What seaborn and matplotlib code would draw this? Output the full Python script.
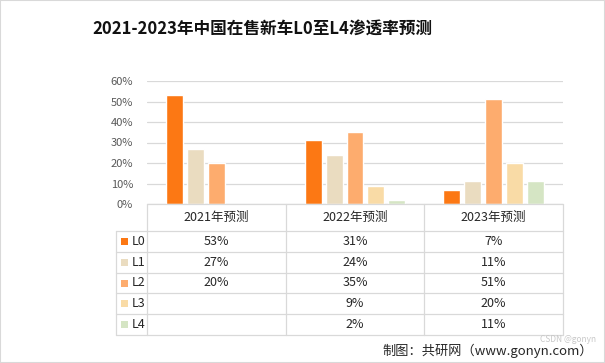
import numpy as np
import pandas as pd
import matplotlib
matplotlib.use('Agg')
import matplotlib.pyplot as plt
import matplotlib.transforms as mtransforms
from matplotlib.patches import Rectangle
from matplotlib.lines import Line2D
import seaborn as sns

years = ['2021年预测', '2022年预测', '2023年预测']
levels = ['L0', 'L1', 'L2', 'L3', 'L4']
L0 = [53, 31, 7]
L1 = [27, 24, 11]
L2 = [20, 35, 51]
L3 = [np.nan, 9, 20]
L4 = [np.nan, 2, 11]
colors = ['#FC7814', '#EADCC0', '#FDAC6E', '#F9DBA6', '#D5E5C4']

series = dict(zip(levels, [L0, L1, L2, L3, L4]))
rows = []
for lv, vals in series.items():
    for yr, v in zip(years, vals):
        if not np.isnan(v):
            rows.append({'year': yr, 'level': lv, 'value': v / 100})
df = pd.DataFrame(rows)

sns.set_style('white')
plt.rcParams['font.family'] = ['Noto Sans CJK SC', 'DejaVu Sans']

W, H = 605, 363
fig = plt.figure(figsize=(W / 100, H / 100), dpi=100)
ax = fig.add_axes([147 / W, 1 - 204 / H, (563 - 147) / W, (204 - 81) / H])

sns.barplot(data=df, x='year', y='value', hue='level', order=years,
            hue_order=levels, palette=colors, saturation=1, width=0.755,
            gap=0.19, errorbar=None, legend=False, ax=ax)

ax.set_xlim(-0.5, 2.5)
ax.set_ylim(0, 0.6)
ax.set_yticks(np.arange(0, 0.61, 0.1))
ax.set_yticklabels([f'{int(round(t * 100))}%' for t in np.arange(0, 0.61, 0.1)])
ax.tick_params(axis='y', length=0, pad=10, labelsize=8, labelcolor='#595959')
ax.tick_params(axis='x', length=0, labelbottom=False)
ax.set_xlabel('')
ax.set_ylabel('')
ax.yaxis.grid(True, color='#D9D9D9', lw=0.9)
ax.set_axisbelow(True)
for s in ax.spines.values():
    s.set_visible(False)

# table under the bars
tr = mtransforms.blended_transform_factory(ax.transData, fig.transFigure)
line_kw = dict(color='#D9D9D9', lw=0.9, transform=tr, clip_on=False)
def fy(p):
    return 1 - p / H

top, head_b, row_h = 204, 231, 20.8
left_col = -0.5 - 31 / 139
edges = [-0.5, 0.5, 1.5, 2.5]
bottom = head_b + row_h * len(levels)

fig.add_artist(Line2D([edges[0], edges[-1]], [fy(top), fy(top)], **line_kw))
for i in range(len(levels) + 1):
    y = fy(head_b + i * row_h)
    fig.add_artist(Line2D([left_col, edges[-1]], [y, y], **line_kw))
fig.add_artist(Line2D([left_col, left_col], [fy(head_b), fy(bottom)], **line_kw))
for e in edges:
    fig.add_artist(Line2D([e, e], [fy(top), fy(bottom)], **line_kw))

for i, yr in enumerate(years):
    fig.text(i, fy((top + head_b) / 2), yr, transform=tr, ha='center',
             va='center', fontsize=9, color='#262626')

for r, lv in enumerate(levels):
    yc = fy(head_b + (r + 0.5) * row_h)
    fig.add_artist(Rectangle((121 / W, yc - 3.5 / H), 7 / W, 7 / H,
                             transform=fig.transFigure, color=colors[r], lw=0))
    fig.text(132 / W, yc, lv, ha='left', va='center', fontsize=9, color='#262626')
    for i, v in enumerate(series[lv]):
        if not np.isnan(v):
            fig.text(i, yc, f'{int(v)}%', transform=tr, ha='center',
                     va='center', fontsize=9, color='#262626')

fig.text(262 / W, fy(30), '2021-2023年中国在售新车L0至L4渗透率预测',
         ha='center', va='center', fontsize=12, fontweight='bold', color='#111111')
fig.text(382 / W, fy(351), '制图：共研网（www.gonyn.com）', ha='left',
         va='center', fontsize=9.5, color='#262626')
fig.text(540 / W, fy(339), 'CSDN @gonyn', ha='left', va='center',
         fontsize=6, color='#C8C8C8')

fig.add_artist(Rectangle((0, 0), 1, 1, transform=fig.transFigure,
                         fill=False, ec='#D9D9D9', lw=1.5))

fig.savefig('out.png', dpi=100)
